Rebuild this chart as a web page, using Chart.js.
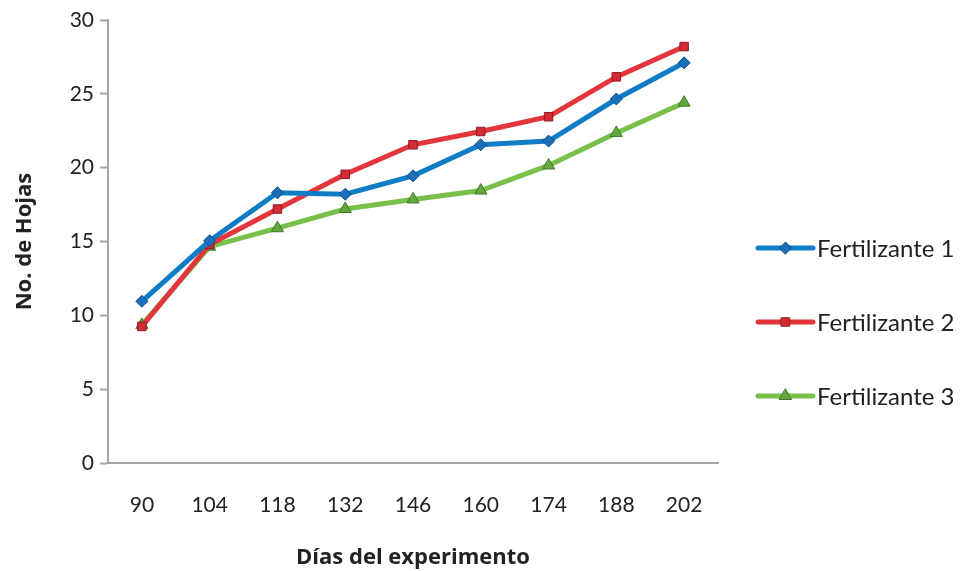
<!DOCTYPE html>
<html lang="es">
<head>
    <meta charset="UTF-8">
    <title>No. de Hojas</title>
    <script src="https://cdn.jsdelivr.net/npm/chart.js"></script>
    <style>
        body { margin: 0; padding: 0; background: #fff; }
        canvas { display: block; }
    </style>
</head>
<body>
    <canvas id="hojasChart" width="960" height="571"></canvas>

    <script>
        // Datos
        const dias = ['90', '104', '118', '132', '146', '160', '174', '188', '202'];
        const fert1 = [10.95, 15.05, 18.3, 18.2, 19.45, 21.55, 21.8, 24.65, 27.1];
        const fert2 = [9.25, 14.8, 17.2, 19.55, 21.55, 22.45, 23.45, 26.15, 28.2];
        const fert3 = [9.35, 14.65, 15.9, 17.2, 17.85, 18.45, 20.15, 22.35, 24.4];
        const yTicks = [0, 5, 10, 15, 20, 25, 30];

        const fontName = 'Lato, "Open Sans", sans-serif';
        const titleFont = '"Open Sans", Lato, sans-serif';

        // Leyenda a la derecha: linea + marcador + texto
        const sideLegend = {
            id: 'sideLegend',
            afterDraw(chart) {
                const ctx = chart.ctx;
                const x0 = 758, x1 = 813, yStart = 248, step = 74;
                chart.data.datasets.forEach((ds, i) => {
                    const y = yStart + i * step;
                    ctx.save();
                    ctx.strokeStyle = ds.borderColor;
                    ctx.lineWidth = 5;
                    ctx.lineCap = 'round';
                    ctx.beginPath();
                    ctx.moveTo(x0, y);
                    ctx.lineTo(x1, y);
                    ctx.stroke();
                    ctx.fillStyle = ds.pointBackgroundColor;
                    ctx.strokeStyle = ds.pointBorderColor;
                    ctx.lineWidth = 1;
                    Chart.helpers.drawPoint(ctx, {
                        pointStyle: ds.pointStyle,
                        radius: ds.pointRadius,
                        rotation: 0,
                        borderWidth: 1
                    }, (x0 + x1) / 2, y);
                    ctx.fillStyle = '#222';
                    ctx.font = '24px ' + fontName;
                    ctx.textBaseline = 'middle';
                    ctx.fillText(ds.label, x1 + 4, y + 1);
                    ctx.restore();
                });
            }
        };

        function serie(label, data, line, fill, border, style, r) {
            return {
                label: label,
                data: data,
                borderColor: line,
                borderWidth: 5,
                pointStyle: style,
                pointRadius: r,
                pointHoverRadius: r,
                pointBackgroundColor: fill,
                pointBorderColor: border,
                pointBorderWidth: 1,
                tension: 0,
                fill: false
            };
        }

        const ctx = document.getElementById('hojasChart').getContext('2d');
        new Chart(ctx, {
            type: 'line',
            data: {
                labels: dias,
                datasets: [
                    serie('Fertilizante 1', fert1, '#0f7cc6', '#1a6fb8', '#0d4f88', 'rectRot', 6),
                    serie('Fertilizante 2', fert2, '#e3363c', '#d42a35', '#8e1a20', 'rect', 6),
                    serie('Fertilizante 3', fert3, '#78c04a', '#63a83e', '#3f7a28', 'triangle', 7)
                ]
            },
            options: {
                responsive: false,
                animation: false,
                devicePixelRatio: 1,
                layout: { padding: { top: 20, right: 242, bottom: 0, left: 0 } },
                plugins: {
                    legend: { display: false },
                    tooltip: { enabled: false }
                },
                scales: {
                    x: {
                        offset: true,
                        grid: { display: false, drawTicks: false },
                        border: { color: '#a6a6a6', width: 2 },
                        ticks: {
                            color: '#222',
                            font: { family: fontName, size: 21 },
                            padding: 30,
                            maxRotation: 0
                        },
                        title: {
                            display: true,
                            text: 'Días del experimento',
                            color: '#222',
                            font: { family: titleFont, size: 22, weight: 'bold' },
                            padding: { top: 14, bottom: 0 }
                        },
                        afterFit(scale) { scale.height = 108; }
                    },
                    y: {
                        min: 0,
                        max: 30,
                        afterBuildTicks(scale) {
                            scale.ticks = yTicks.map(v => ({ value: v }));
                        },
                        grid: { display: true, drawOnChartArea: false, drawTicks: true, tickLength: 8, tickColor: '#a6a6a6', tickWidth: 2 },
                        border: { color: '#a6a6a6', width: 2 },
                        ticks: {
                            color: '#222',
                            font: { family: fontName, size: 21 },
                            padding: 6
                        },
                        title: {
                            display: true,
                            text: 'No. de Hojas',
                            color: '#222',
                            font: { family: titleFont, size: 22, weight: 'bold' },
                            padding: { top: 12, bottom: 20 }
                        },
                        afterFit(scale) { scale.width = 108; }
                    }
                }
            },
            plugins: [sideLegend]
        });
    </script>
</body>
</html>
